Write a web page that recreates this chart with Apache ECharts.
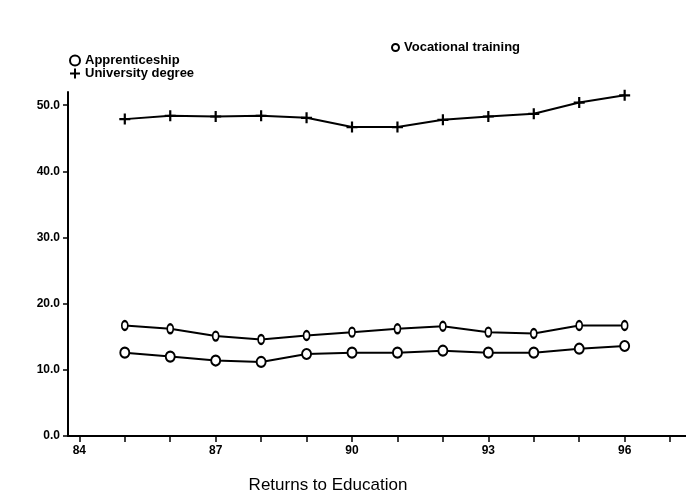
<!DOCTYPE html>
<html>
<head>
<meta charset="utf-8">
<script src="https://cdn.jsdelivr.net/npm/echarts@6/dist/echarts.min.js"></script>
<style>
html,body{margin:0;padding:0;background:#fff;}
#chart{width:686px;height:501px;}
</style>
</head>
<body>
<div id="chart"></div>
<script>
var years = [85, 86, 87, 88, 89, 90, 91, 92, 93, 94, 95, 96];
var apprenticeship = [12.6, 12.0, 11.4, 11.2, 12.4, 12.6, 12.6, 12.9, 12.6, 12.6, 13.2, 13.6];
var vocational = [16.7, 16.2, 15.1, 14.6, 15.2, 15.7, 16.2, 16.6, 15.7, 15.5, 16.7, 16.7];
var university = [47.9, 48.4, 48.3, 48.4, 48.1, 46.7, 46.7, 47.8, 48.3, 48.7, 50.4, 51.5];
var xTicks = [84, 85, 86, 87, 88, 89, 90, 91, 92, 93, 94, 95, 96, 97];
var xLabels = [84, 87, 90, 93, 96];
var yTicks = [0, 10, 20, 30, 40, 50];

function pairs(vals) {
  return years.map(function (y, i) { return [y, vals[i]]; });
}

var font = 'Liberation Sans, Arial, sans-serif';
var plusPath = 'path://M4,0 L6,0 L6,4 L10,4 L10,6 L6,6 L6,10 L4,10 L4,6 L0,6 L0,4 L4,4 Z';

var chart = echarts.init(document.getElementById('chart'));
chart.setOption({
  animation: false,
  backgroundColor: '#fff',
  grid: { left: 68, right: 0, top: 92, bottom: 65 },
  title: {
    text: 'Returns to Education',
    left: 323, top: 472, textAlign: 'center',
    textStyle: { fontFamily: font, fontSize: 17, fontWeight: 'normal', color: '#000' }
  },
  legend: [
    {
      left: 64, top: 49, orient: 'vertical', itemGap: 0,
      itemWidth: 10, itemHeight: 10,
      data: [
        { name: 'Apprenticeship', icon: 'emptyCircle' },
        { name: 'University degree', icon: plusPath }
      ],
      textStyle: { fontFamily: font, fontSize: 13, fontWeight: 'bold', color: '#000', padding: [0, 0, 0, 0] }
    },
    {
      left: 386, top: 36,
      itemWidth: 7, itemHeight: 10,
      data: [{ name: 'Vocational training', icon: 'emptyCircle' }],
      textStyle: { fontFamily: font, fontSize: 13, fontWeight: 'bold', color: '#000', padding: [0, 0, 0, 0] }
    }
  ],
  xAxis: {
    type: 'value', min: 83.75, max: 97.35,
    axisLine: { lineStyle: { color: '#000', width: 2 } },
    axisTick: { show: true, length: 6, customValues: xTicks, lineStyle: { color: '#000', width: 1.5 } },
    axisLabel: {
      customValues: xLabels, margin: 9,
      fontFamily: font, fontSize: 12, fontWeight: 'bold', color: '#000'
    },
    splitLine: { show: false }
  },
  yAxis: {
    type: 'value', min: 0, max: 52, interval: 10,
    axisLine: { show: true, lineStyle: { color: '#000', width: 2 } },
    axisTick: { show: true, length: 5, customValues: yTicks, lineStyle: { color: '#000', width: 1.5 } },
    axisLabel: {
      customValues: yTicks, margin: 8,
      formatter: function (v) { return v.toFixed(1); },
      fontFamily: font, fontSize: 12, fontWeight: 'bold', color: '#000'
    },
    splitLine: { show: false }
  },
  series: [
    {
      name: 'Apprenticeship', type: 'line', data: pairs(apprenticeship),
      symbol: 'emptyCircle', symbolSize: [9, 10],
      color: '#000',
      lineStyle: { color: '#000', width: 2 },
      itemStyle: { color: '#000', borderWidth: 2 }
    },
    {
      name: 'University degree', type: 'line', data: pairs(university),
      symbol: plusPath, symbolSize: 11,
      color: '#000',
      lineStyle: { color: '#000', width: 2 },
      itemStyle: { color: '#000', borderWidth: 0 }
    },
    {
      name: 'Vocational training', type: 'line', data: pairs(vocational),
      symbol: 'emptyCircle', symbolSize: [6, 9],
      color: '#000',
      lineStyle: { color: '#000', width: 2 },
      itemStyle: { color: '#000', borderWidth: 2 }
    }
  ]
});
</script>
</body>
</html>
